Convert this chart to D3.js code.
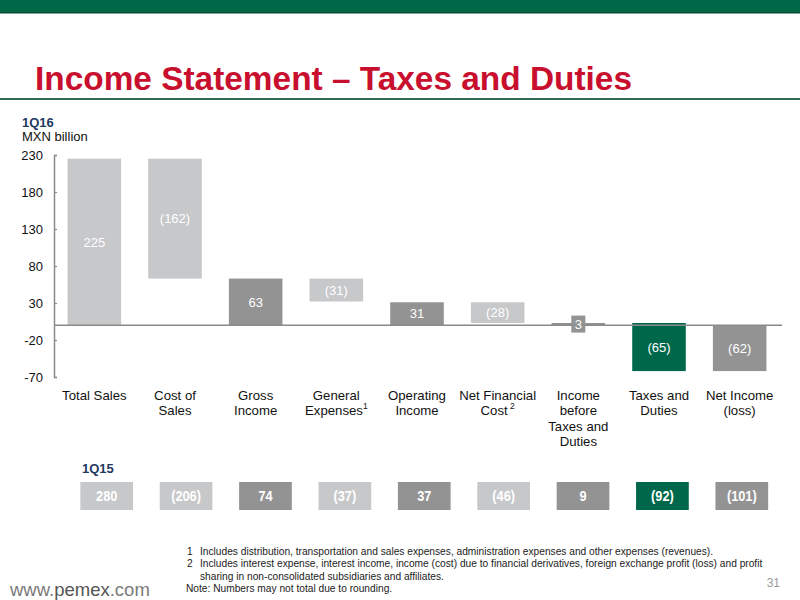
<!DOCTYPE html>
<html>
<head>
<meta charset="utf-8">
<script src="https://cdn.jsdelivr.net/npm/d3@7"></script>
<style>
  html, body { margin: 0; padding: 0; background: #fff; }
  svg { display: block; }
  .reg { font-family: "Liberation Sans", Arial, Helvetica, sans-serif; }
</style>
</head>
<body>
<svg id="chart" width="800" height="600"></svg>
<script>
// ---- data ----
const categories = ["Total Sales", "Cost of Sales", "Gross Income", "General Expenses", "Operating Income",
                    "Net Financial Cost", "Income before Taxes and Duties", "Taxes and Duties", "Net Income (loss)"];
const categoryLines = [["Total Sales"], ["Cost of", "Sales"], ["Gross", "Income"], ["General", "Expenses"],
                       ["Operating", "Income"], ["Net Financial", "Cost"], ["Income", "before", "Taxes and", "Duties"],
                       ["Taxes and", "Duties"], ["Net Income", "(loss)"]];
const categoryNotes = ["", "", "", "1", "", "2", "", "", ""];
const barKinds = ["total", "delta", "total", "delta", "total", "delta", "total", "delta", "total"];
const barShades = ["light", "light", "dark", "light", "dark", "light", "dark", "green", "dark"];
const values1Q16 = [225, -162, 63, -31, 31, -28, 3, -65, -62];
const values1Q15 = [280, -206, 74, -37, 37, -46, 9, -92, -101];
const yTicks = [-70, -20, 30, 80, 130, 180, 230];
const footnotes = [
  ["1", "Includes  distribution, transportation and sales expenses, administration expenses  and other expenses (revenues)."],
  ["2", "Includes interest expense, interest income, income (cost) due to financial derivatives, foreign exchange profit (loss) and profit"],
  ["", "sharing in non-consolidated subsidiaries and affiliates."],
  ["Note:", "Numbers may not total due to rounding."]
];

// ---- style ----
const shadeColor = { light: "#c7c8ca", dark: "#939393", green: "#00684a" };
const fmt = v => v < 0 ? "(" + Math.abs(v) + ")" : String(v);

const svg = d3.select("#chart");

// helper: horizontally condense a text element to mimic a narrow face
function condense(sel, k) {
  const L = sel.node().getComputedTextLength();
  sel.attr("textLength", (L * k).toFixed(2)).attr("lengthAdjust", "spacingAndGlyphs");
  return sel;
}

// top band and title
svg.append("rect").attr("x", 0).attr("y", 0).attr("width", 800).attr("height", 13).attr("fill", "#006847");
svg.append("rect").attr("x", 0).attr("y", 12).attr("width", 800).attr("height", 1.5).attr("fill", "#0b4f33");
svg.append("text").attr("class", "reg")
  .attr("x", 35).attr("y", 90)
  .attr("font-size", 33).attr("font-weight", "bold").attr("fill", "#c8102e")
  .attr("textLength", 597).attr("lengthAdjust", "spacingAndGlyphs")
  .text("Income Statement – Taxes and Duties");
svg.append("rect").attr("x", 0).attr("y", 98).attr("width", 800).attr("height", 2).attr("fill", "#2f6b50");

svg.append("text").attr("class", "reg").attr("x", 22).attr("y", 127)
  .attr("font-size", 13).attr("font-weight", "bold").attr("fill", "#1f3a5f").text("1Q16");
svg.append("text").attr("class", "reg").attr("x", 22).attr("y", 141)
  .attr("font-size", 13).attr("fill", "#111").text("MXN billion");

// scales
const x = d3.scaleBand().domain(categories).range([54, 780]).paddingInner(0.336).paddingOuter(0.168);
const y = d3.scaleLinear().domain([-70, 230]).range([377, 155]);

// waterfall extents
let running = 0;
const bars = values1Q16.map((v, i) => {
  let y0, y1;
  if (barKinds[i] === "total") { y0 = 0; y1 = v; running = v; }
  else { y0 = running; y1 = running + v; running = y1; }
  return { cat: categories[i], v, y0, y1, shade: barShades[i] };
});

// axis
const axis = d3.axisLeft(y).tickValues(yTicks).tickFormat(d => String(d))
  .tickSizeInner(-3).tickSizeOuter(-3).tickPadding(11);
const gA = svg.append("g").attr("transform", "translate(54,0)").call(axis);
gA.select(".domain").attr("stroke", "#8a8a8a").attr("stroke-width", 1.5);
gA.selectAll(".tick line").attr("stroke", "#8a8a8a").attr("stroke-width", 1.2);
gA.selectAll(".tick text").attr("class", "reg").attr("font-size", 13).attr("fill", "#111");

// bars
svg.append("g").selectAll("rect").data(bars).join("rect")
  .attr("x", d => x(d.cat)).attr("width", x.bandwidth())
  .attr("y", d => y(Math.max(d.y0, d.y1)))
  .attr("height", d => Math.abs(y(d.y0) - y(d.y1)))
  .attr("fill", d => shadeColor[d.shade]);

// zero line
svg.append("line").attr("x1", 54).attr("x2", 782).attr("y1", y(0)).attr("y2", y(0))
  .attr("stroke", "#8a8a8a").attr("stroke-width", 1.5);

// bar labels
const lbl = svg.append("g");
bars.forEach(d => {
  const cx = x(d.cat) + x.bandwidth() / 2;
  const hgt = Math.abs(y(d.y0) - y(d.y1));
  const cy = (y(d.y0) + y(d.y1)) / 2;
  if (hgt < 18) {
    lbl.append("rect").attr("x", cx - 7).attr("y", cy - 8.5).attr("width", 14).attr("height", 17)
      .attr("fill", shadeColor[d.shade]);
  }
  lbl.append("text").attr("class", "reg").attr("x", cx).attr("y", cy).attr("dy", "0.36em")
    .attr("text-anchor", "middle").attr("font-size", 13).attr("fill", "#fff").text(fmt(d.v));
});

// category labels (one text per line)
const cl = svg.append("g");
categories.forEach((c, i) => {
  const cx = x(c) + x.bandwidth() / 2;
  categoryLines[i].forEach((ln, j) => {
    const t = cl.append("text").attr("class", "reg").attr("x", cx).attr("y", 400 + j * 15.3)
      .attr("font-size", 13.2).attr("text-anchor", "middle").attr("fill", "#111");
    t.append("tspan").text(ln);
    if (j === categoryLines[i].length - 1 && categoryNotes[i]) {
      t.append("tspan").attr("font-size", 8.5).attr("dy", "-6").text((categoryNotes[i] === "2" ? " " : "") + categoryNotes[i]);
    }
  });
});

// 1Q15 row
svg.append("text").attr("class", "reg").attr("x", 82).attr("y", 473)
  .attr("font-size", 13).attr("font-weight", "bold").attr("fill", "#1f3a5f").text("1Q15");
const x2 = d3.scaleBand().domain(categories).range([67, 781.5]).paddingInner(0.336).paddingOuter(0.168);
const row = svg.append("g");
row.selectAll("rect").data(values1Q15).join("rect")
  .attr("x", (d, i) => x2(categories[i])).attr("width", x2.bandwidth())
  .attr("y", 482).attr("height", 28)
  .attr("fill", (d, i) => shadeColor[barShades[i]]);
values1Q15.forEach((v, i) => {
  const t = row.append("text").attr("class", "reg")
    .attr("x", x2(categories[i]) + x2.bandwidth() / 2).attr("y", 496).attr("dy", "0.36em")
    .attr("font-size", 15).attr("text-anchor", "middle").attr("font-weight", "bold").attr("fill", "#fff")
    .text(fmt(v));
  condense(t, 0.85);
});

// footnotes
const fn = svg.append("g").attr("fill", "#222");
function footText(xx, yy, s) {
  return fn.append("text").attr("class", "reg").attr("x", xx).attr("y", yy).attr("font-size", 10.2).text(s);
}
footnotes.forEach((f, i) => {
  const yy = 555 + i * 12.3;
  if (f[0] === "Note:") {
    footText(186, yy, f[0] + " " + f[1]);
  } else {
    if (f[0]) footText(187, yy, f[0]);
    footText(200, yy, f[1]);
  }
});

// footer
const ft = svg.append("text").attr("class", "reg").attr("x", 10).attr("y", 596).attr("font-size", 18.5).attr("fill", "#7a7a7a");
ft.append("tspan").text("www.");
ft.append("tspan").attr("fill", "#555").text("pemex");
ft.append("tspan").text(".com");
svg.append("text").attr("class", "reg").attr("x", 780).attr("y", 587).attr("text-anchor", "end")
  .attr("font-size", 12).attr("fill", "#999").text("31");
</script>
</body>
</html>
